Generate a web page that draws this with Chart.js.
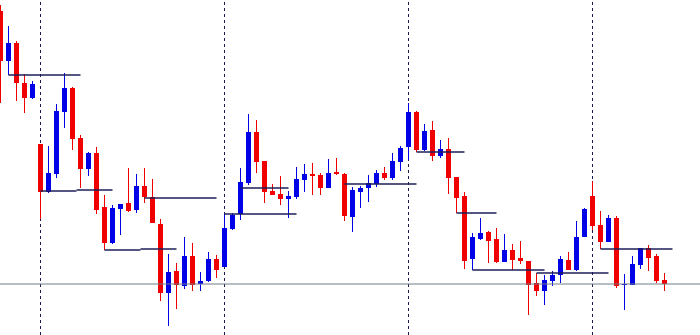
<!DOCTYPE html>
<html>
<head>
<meta charset="utf-8">
<script src="https://cdn.jsdelivr.net/npm/chart.js@4.4.1/dist/chart.umd.min.js"></script>
<style>
  html, body { margin: 0; padding: 0; background: #ffffff; }
  #wrap { width: 700px; height: 335px; position: relative; }
</style>
</head>
<body>
<div id="wrap"><canvas id="priceChart"></canvas></div>
<script>
// candle prices, one entry per bar (oldest first)
const opens  = [324, 274, 292, 252, 237, 191, 143, 161, 223, 247, 197, 166, 182, 128, 92, 126, 132, 125, 149, 138,
                111, 42, 64, 49, 79, 51, 54, 76, 68, 106, 121, 152, 203, 174, 144, 141, 136, 138, 155, 161,
                160, 147, 163, 161, 118, 143, 147, 151, 162, 157, 173, 188, 223, 185, 205, 179, 186, 158, 139, 76,
                96, 103, 96, 73, 85, 77, 74, 52, 44, 54, 60, 75, 65, 98, 139, 110, 93, 117, 50, 50,
                70, 87, 79, 55];
const highs  = [330, 309, 294, 261, 254, 191, 189, 231, 262, 248, 200, 183, 188, 140, 130, 131, 167, 161, 167, 156,
                116, 81, 72, 98, 92, 63, 83, 80, 121, 122, 167, 221, 215, 174, 151, 159, 144, 168, 171, 172,
                162, 176, 177, 162, 148, 149, 160, 165, 168, 182, 189, 232, 224, 211, 214, 195, 197, 158, 143, 102,
                117, 104, 107, 101, 91, 94, 74, 62, 60, 64, 79, 83, 114, 127, 154, 124, 120, 119, 61, 79,
                87, 90, 81, 62];
const lows   = [232, 260, 234, 222, 236, 116, 142, 157, 207, 185, 147, 159, 121, 85, 91, 100, 123, 122, 132, 112,
                34, 9, 26, 46, 44, 44, 53, 57, 68, 105, 115, 150, 162, 132, 140, 130, 117, 136, 143, 140,
                140, 147, 160, 114, 103, 127, 133, 148, 155, 155, 164, 175, 183, 184, 174, 177, 141, 122, 66, 65,
                95, 72, 72, 73, 65, 71, 20, 39, 30, 49, 52, 65, 64, 98, 105, 86, 93, 47, 25, 50,
                66, 64, 52, 44];
const closes = [274, 292, 252, 237, 251, 143, 162, 224, 247, 196, 166, 182, 125, 92, 127, 131, 124, 149, 138, 112,
                42, 63, 50, 79, 50, 54, 76, 65, 107, 120, 153, 203, 173, 143, 140, 136, 139, 156, 161, 159,
                147, 162, 161, 119, 145, 147, 152, 162, 157, 174, 187, 223, 185, 204, 179, 186, 157, 137, 74, 98,
                102, 94, 73, 85, 75, 74, 50, 44, 55, 60, 76, 65, 98, 126, 109, 93, 117, 49, 51, 71,
                87, 77, 54, 51];

// horizontal level segments (bar index from / to, price)
const levelFrom  = [1, 5, 9.5, 13, 17.5, 18, 28, 30, 43, 52, 57, 59, 67, 75];
const levelTo    = [10, 9.5, 14, 17.5, 22, 27, 37, 36, 52, 58, 62, 68, 76, 84];
const levelPrice = [260, 144, 145, 85, 86, 137, 121, 147, 151, 183, 122, 65, 62, 86];

// day separators (bar index) and current bid
const separators = [5, 28, 51, 74];
const bidPrice = 51;

const upColor = '#0000e6';
const downColor = '#f00000';
const levelColor = '#1e1e5a';

const candleColors = opens.map((o, i) => closes[i] >= o ? upColor : downColor);

const datasets = [];

// levels and bid line drawn on top of the candles
levelPrice.forEach((p, k) => {
  datasets.push({
    type: 'line',
    data: [{ x: levelFrom[k], y: p }, { x: levelTo[k], y: p }],
    borderColor: levelColor,
    borderWidth: 1.3,
    pointRadius: 0,
    order: 0
  });
});

datasets.push({
  type: 'line',
  data: [{ x: -1, y: bidPrice }, { x: 90, y: bidPrice }],
  borderColor: '#6e7c88',
  borderWidth: 1,
  pointRadius: 0,
  order: 0
});

// separators sit behind the candles
separators.forEach(s => {
  datasets.push({
    type: 'line',
    data: [{ x: s, y: 0 }, { x: s, y: 335 }],
    borderColor: '#1a1a4a',
    borderWidth: 1,
    borderDash: [3, 3],
    pointRadius: 0,
    order: 3
  });
});

// bodies
datasets.push({
  type: 'bar',
  data: opens.map((o, i) => ({ x: i, y: [o, closes[i]] })),
  backgroundColor: candleColors,
  barThickness: 5,
  grouped: false,
  inflateAmount: 0,
  borderWidth: 0,
  order: 1
});

// wicks
datasets.push({
  type: 'bar',
  data: opens.map((o, i) => ({ x: i, y: [lows[i], highs[i]] })),
  backgroundColor: candleColors,
  barThickness: 1,
  grouped: false,
  inflateAmount: 0,
  borderWidth: 0,
  order: 2
});

const ctx = document.getElementById('priceChart').getContext('2d');
new Chart(ctx, {
  type: 'bar',
  data: { datasets: datasets },
  options: {
    responsive: true,
    maintainAspectRatio: false,
    animation: false,
    layout: { padding: 0 },
    plugins: {
      legend: { display: false },
      tooltip: { enabled: false }
    },
    scales: {
      x: {
        type: 'linear',
        min: -0.0625,
        max: 87.4375,
        offset: false,
        display: false
      },
      y: {
        min: 0,
        max: 335,
        display: false
      }
    }
  }
});
</script>
</body>
</html>
